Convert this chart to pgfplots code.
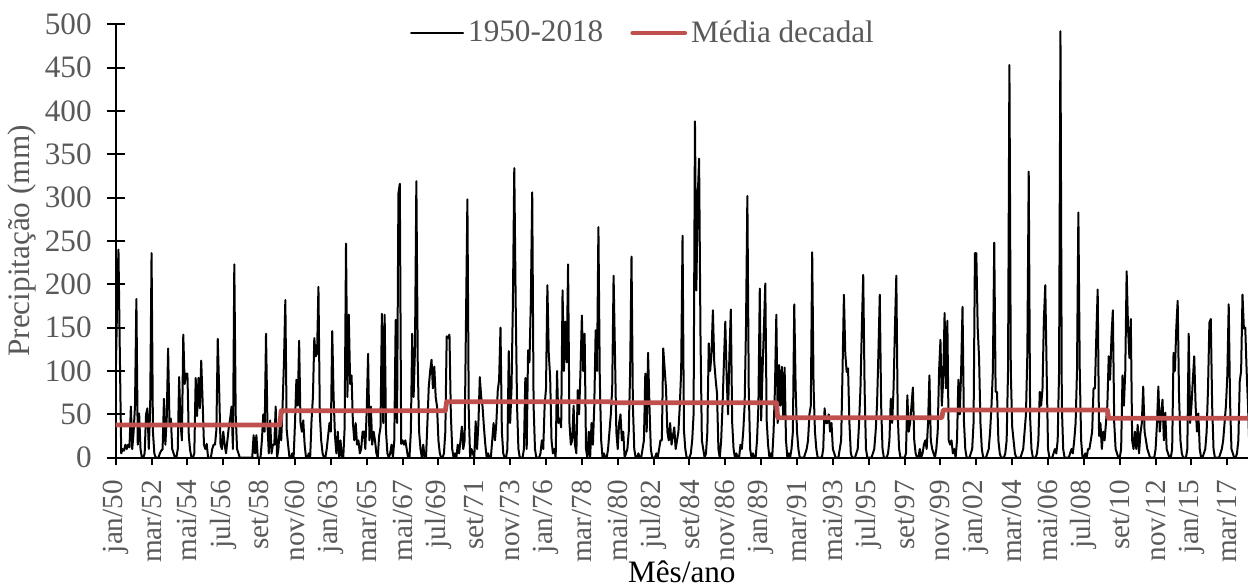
\documentclass[border=0pt]{standalone}
\usepackage{fontspec}
\setmainfont{Liberation Serif}
\usepackage{pgfplots}
\pgfplotsset{compat=1.18}
\usepackage{pgfplotstable}
\definecolor{txtgray}{HTML}{595959}
\definecolor{avgred}{HTML}{C0504D}
\newcommand\fs{\fontsize{15.6}{18.7}\selectfont}
\newcommand\fsx{\fontsize{14.6}{17.5}\selectfont}

\pgfplotstableread{
y
90
175
240
120
5
10
8
15
10
15
12
59
10
30
60
183
15
51
10
0
0
5
50
57
10
57
236
30
5
0
0
0
5
8
10
68
15
45
126
40
45
10
5
0
0
10
93
40
20
142
85
97
97
25
8
0
0
5
92
48
92
57
112
66
15
10
16
0
0
0
10
15
15
32
137
80
15
10
30
15
5
20
35
45
59
10
223
50
10
5
0
0
0
0
0
0
0
0
0
0
26
5
26
0
0
0
20
50
30
143
40
5
43
5
15
15
59
0
10
38
20
60
110
182
32
15
0
0
5
0
40
90
60
135
40
30
43
15
0
0
5
0
43
70
138
117
120
197
50
20
5
0
0
10
25
40
30
146
70
25
5
30
0
20
0
0
35
247
70
165
85
95
40
20
40
15
20
5
10
30
30
10
55
120
20
59
15
30
20
5
0
25
35
166
40
165
30
5
0
5
15
0
20
159
40
305
316
16
20
15
20
10
0
0
30
143
70
125
319
111
30
10
0
15
0
0
40
82
100
113
80
105
70
59
20
5
0
0
5
30
140
138
142
50
10
0
5
0
15
5
20
36
10
20
160
298
51
0
10
5
0
42
10
40
93
70
59
35
15
0
5
0
0
20
40
20
40
77
90
150
30
5
0
0
10
123
40
80
180
334
180
60
10
0
0
0
10
92
10
124
110
180
306
60
10
0
0
0
5
20
10
60
80
199
120
93
20
5
10
0
100
40
45
35
193
100
157
110
223
40
15
20
60
15
5
78
50
100
164
100
143
10
0
30
0
40
15
60
147
100
266
90
20
0
5
0
0
10
30
50
80
210
120
30
10
40
50
20
30
0
5
10
30
100
232
60
10
0
0
5
0
0
10
20
97
30
121
60
10
0
0
0
5
0
10
20
20
126
103
80
30
20
40
15
25
35
10
20
30
60
100
256
32
10
0
0
0
5
20
50
388
193
300
345
142
20
10
0
5
30
132
100
120
170
110
90
74
10
0
20
60
110
157
92
50
120
171
40
10
0
5
0
0
15
10
30
60
150
302
80
10
0
5
0
0
20
60
195
43
100
150
201
43
15
0
5
0
30
80
165
40
107
60
105
45
104
20
0
5
0
10
30
177
80
30
10
0
0
0
0
5
10
20
50
60
237
82
30
10
0
0
0
0
10
57
40
40
50
30
40
10
5
0
0
0
10
20
100
188
120
99
103
40
5
0
0
0
5
10
40
80
150
211
80
10
0
0
0
0
5
10
30
60
120
188
60
10
0
0
0
5
20
68
40
80
150
210
50
10
0
0
0
0
5
72
30
40
60
81
20
5
0
0
10
0
5
15
20
10
40
95
20
10
5
0
10
30
100
136
60
90
167
80
158
20
15
20
5
10
0
20
90
50
100
174
43
10
0
0
0
5
10
40
236
236
150
115
40
10
0
0
0
5
10
30
60
100
248
76
76
20
5
0
0
0
5
20
101
453
100
36
20
5
0
0
0
0
5
10
30
50
120
330
47
10
0
0
0
5
20
76
60
80
160
199
100
10
0
0
0
5
10
5
20
100
492
60
10
0
0
0
0
5
10
5
20
40
100
283
101
20
0
0
5
0
10
10
20
30
80
80
140
194
25
40
10
30
20
40
60
117
90
140
170
40
10
5
0
0
10
95
60
100
215
150
115
160
20
10
30
10
38
5
28
40
82
30
20
10
5
0
0
0
0
10
40
82
30
50
67
20
52
10
5
0
0
10
121
100
150
181
70
20
5
0
0
0
10
143
40
60
90
117
60
30
51
10
0
0
5
10
30
80
156
160
60
10
0
0
0
0
5
10
20
40
60
95
177
63
10
5
0
0
5
20
88
100
188
149
150
100
60
10
0
0
0
0
0
}\precip

\pgfplotstableread{
m v
0 37.7
119 37.7
120 54.2
239 54.2
240 64.6
359 64.6
360 63.5
479 63.5
480 46.2
599 46.2
600 55.0
719 55.0
720 45.4
827 45.4
}\decadal

\begin{document}
\begin{tikzpicture}
\begin{axis}[
  name=ax,
  scale only axis,
  width=566.15pt, height=216.7pt,
  xmin=0, xmax=821, ymin=0, ymax=500,
  axis x line=bottom, axis y line=left,
  axis line style={-, black, line width=1pt},
  tick style={black, line width=1pt},
  xtick={0,26,...,806},
  xticklabels={jan/50,mar/52,mai/54,jul/56,set/58,nov/60,jan/63,mar/65,mai/67,jul/69,set/71,nov/73,jan/76,mar/78,mai/80,jul/82,set/84,nov/86,jan/89,mar/91,mai/93,jul/95,set/97,nov/99,jan/02,mar/04,mai/06,jul/08,set/10,nov/12,jan/15,mar/17},
  ytick={0,50,...,500},
  xtick align=outside, ytick align=center,
  major tick length=9pt,
  xtick style={/pgfplots/major tick length=3.5pt},
  minor tick num=0,
  /pgf/number format/assume math mode=true,
  tick label style={font=\fs, text=txtgray},
  xticklabel style={rotate=90, anchor=east, font=\fsx, inner sep=0pt},
  xticklabel shift=2pt,
  yticklabel shift=4pt,
  xlabel={Mês/ano},
  ylabel={Precipitação (mm)},
  xlabel style={at={(axis description cs:0.5,-0.2637)}, anchor=center, inner sep=0pt, font=\fs, text=black},
  ylabel style={at={(axis description cs:-0.0828,0.5)}, anchor=center, font=\fs, text=txtgray},
  legend columns=2,
  legend style={at={(axis description cs:0.4666,0.98)}, anchor=center, draw=none, fill=none,
    font=\fs, text=txtgray, /tikz/every even column/.append style={column sep=11.5pt}},
  legend image code/.code={\draw[#1, line cap=round] (0pt,0pt) -- (26pt,0pt);},
  clip=true,
]
\addplot[black, line width=1pt, line join=round] table[x expr=\coordindex, y=y] {\precip};
\addlegendentry{1950-2018}
\addplot[avgred, line width=2.4pt, line join=round] table[x=m, y=v] {\decadal};
\addlegendentry{Média decadal}
\end{axis}
\pgfresetboundingbox
\path[use as bounding box] ([xshift=-57.85pt,yshift=-65.15pt]ax.south west) rectangle ([yshift=12.15pt]ax.north east);
\end{tikzpicture}
\end{document}
